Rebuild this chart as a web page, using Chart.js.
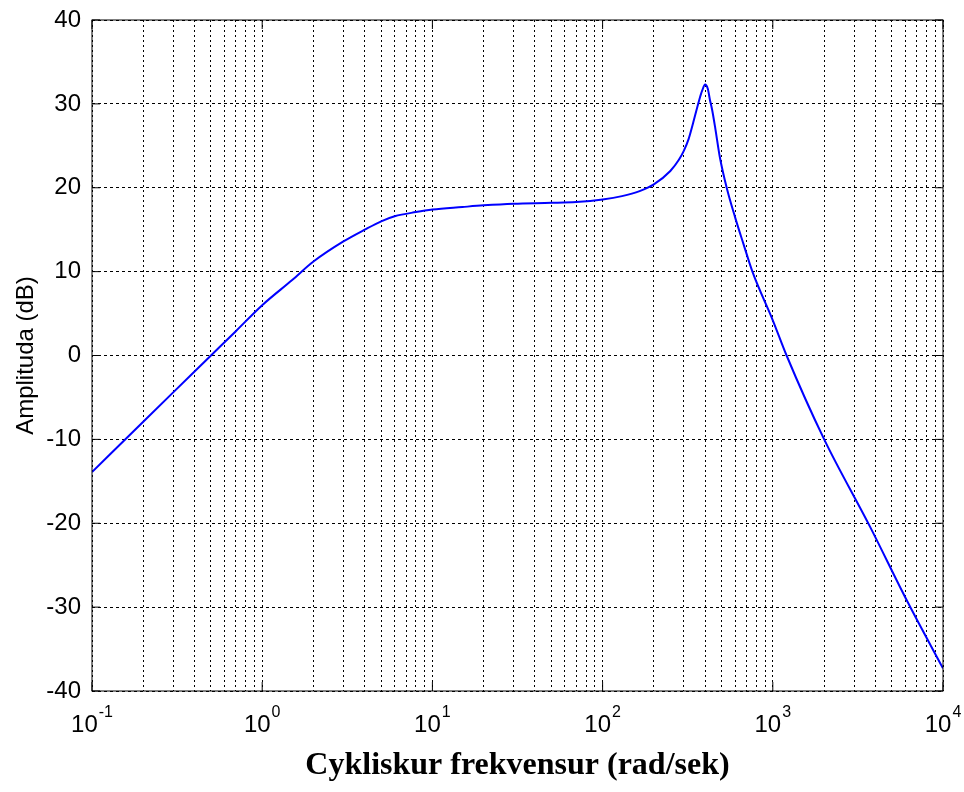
<!DOCTYPE html>
<html>
<head>
<meta charset="utf-8">
<script src="https://cdn.jsdelivr.net/npm/chart.js@4/dist/chart.umd.min.js"></script>
<style>
  html, body { margin: 0; padding: 0; background: #fff; }
  #wrap { width: 964px; height: 792px; }
</style>
</head>
<body>
<div id="wrap"><canvas id="bode" width="964" height="792"></canvas></div>
<script>
// frequency (rad/s) and amplitude (dB)
const freq = [0.1, 0.2, 0.3, 0.5, 0.7, 1, 1.5, 2, 3, 4, 5, 6, 8, 10, 15, 20, 30, 50, 70, 100,
  130, 165, 200, 250, 280, 300, 320, 340, 370, 385, 400, 415, 427, 440, 460, 488, 536, 600, 670, 759,
  1000, 1205, 2004, 3724, 6166, 10000];
const ampDb = [-13.9, -7.9, -4.4, 0, 2.9, 6.0, 9.0, 11.2, 13.6, 15.0, 16.0, 16.6, 17.1, 17.4, 17.7, 17.9, 18.1, 18.2, 18.3, 18.6,
  19.0, 19.6, 20.4, 22.0, 23.3, 24.4, 25.8, 27.7, 30.5, 31.6, 32.3, 31.8, 30.5, 29.3, 27.0, 23.7, 20.0, 16.5, 13.4, 10.0,
  4.2, 0, -10, -20.4, -29.3, -37.3];

const decades = [-1, 0, 1, 2, 3, 4];
const yMin = -40;
const yMax = 40;
const yStep = 10;
const xTitle = 'Cykliskur frekvensur (rad/sek)';
const yTitle = 'Amplituda (dB)';

const sans = '"Liberation Sans", Arial, sans-serif';

// grid at 1..9 x 10^n (Chart.js 4 would also put lines at 1.5 x 10^n)
function logGridValues() {
  const vals = [];
  for (let i = 0; i < decades.length; i++) {
    const base = Math.pow(10, decades[i]);
    if (i === decades.length - 1) { vals.push(base); break; }
    for (let m = 1; m <= 9; m++) vals.push(+(m * base).toPrecision(3));
  }
  return vals;
}

// solid box, inward ticks and 10^n labels like the MATLAB figure
const matlabFrame = {
  id: 'matlabFrame',
  afterDatasetsDraw(chart) {
    const { ctx, chartArea: a, scales: { x, y } } = chart;
    ctx.save();
    ctx.setLineDash([]);
    ctx.strokeStyle = '#000';
    ctx.lineWidth = 1;
    ctx.strokeRect(a.left, a.top, a.right - a.left, a.bottom - a.top);

    ctx.beginPath();
    for (let v = yMin; v <= yMax; v += yStep) {
      const py = y.getPixelForValue(v);
      ctx.moveTo(a.left, py); ctx.lineTo(a.left + 8, py);
      ctx.moveTo(a.right, py); ctx.lineTo(a.right - 8, py);
    }
    decades.forEach(d => {
      const px = x.getPixelForValue(Math.pow(10, d));
      ctx.moveTo(px, a.bottom); ctx.lineTo(px, a.bottom - 9);
      ctx.moveTo(px, a.top); ctx.lineTo(px, a.top + 9);
    });
    ctx.stroke();

    ctx.fillStyle = '#000';
    ctx.textAlign = 'left';
    ctx.textBaseline = 'alphabetic';
    decades.forEach(d => {
      const px = x.getPixelForValue(Math.pow(10, d));
      const exp = String(d);
      ctx.font = '24px ' + sans;
      const wBase = ctx.measureText('10').width;
      ctx.font = '16px ' + sans;
      const wExp = ctx.measureText(exp).width;
      const x0 = px - (wBase + wExp + 1) / 2;
      ctx.font = '24px ' + sans;
      ctx.fillText('10', x0, a.bottom + 41);
      ctx.font = '16px ' + sans;
      ctx.fillText(exp, x0 + wBase + 1, a.bottom + 26);
    });
    ctx.restore();
  }
};

new Chart(document.getElementById('bode'), {
  type: 'line',
  data: {
    datasets: [{
      data: freq.map((f, i) => ({ x: f, y: ampDb[i] })),
      borderColor: '#0000ff',
      borderWidth: 2,
      pointRadius: 0,
      cubicInterpolationMode: 'monotone',
      fill: false
    }]
  },
  options: {
    responsive: false,
    animation: false,
    layout: { padding: { top: 20, right: 21, left: 0, bottom: 0 } },
    plugins: { legend: { display: false }, tooltip: { enabled: false } },
    scales: {
      x: {
        type: 'logarithmic',
        min: 0.1,
        max: 10000,
        afterBuildTicks: (s) => { s.ticks = logGridValues().map(v => ({ value: v })); },
        afterFit: (s) => { s.height = 101; },
        ticks: { autoSkip: false, maxRotation: 0, callback: () => '' },
        grid: { color: '#000', lineWidth: 1, drawTicks: false },
        border: { display: false, dash: [2, 3] },
        title: {
          display: true,
          text: xTitle,
          color: '#000',
          font: { family: '"Liberation Serif", "Times New Roman", serif', size: 32, weight: 'bold' },
          padding: { top: 0, bottom: 7 }
        }
      },
      y: {
        min: yMin,
        max: yMax,
        afterFit: (s) => { s.width = 92; s.paddingTop = 0; s.paddingBottom = 0; },
        ticks: { stepSize: yStep, color: '#000', padding: 11, font: { family: sans, size: 24, lineHeight: 0.75 } },
        grid: { color: '#000', lineWidth: 1, drawTicks: false },
        border: { display: false, dash: [3, 3] },
        title: {
          display: true,
          text: yTitle,
          color: '#000',
          font: { family: sans, size: 24 },
          padding: { top: 12, bottom: 0 }
        }
      }
    }
  },
  plugins: [matlabFrame]
});
</script>
</body>
</html>
